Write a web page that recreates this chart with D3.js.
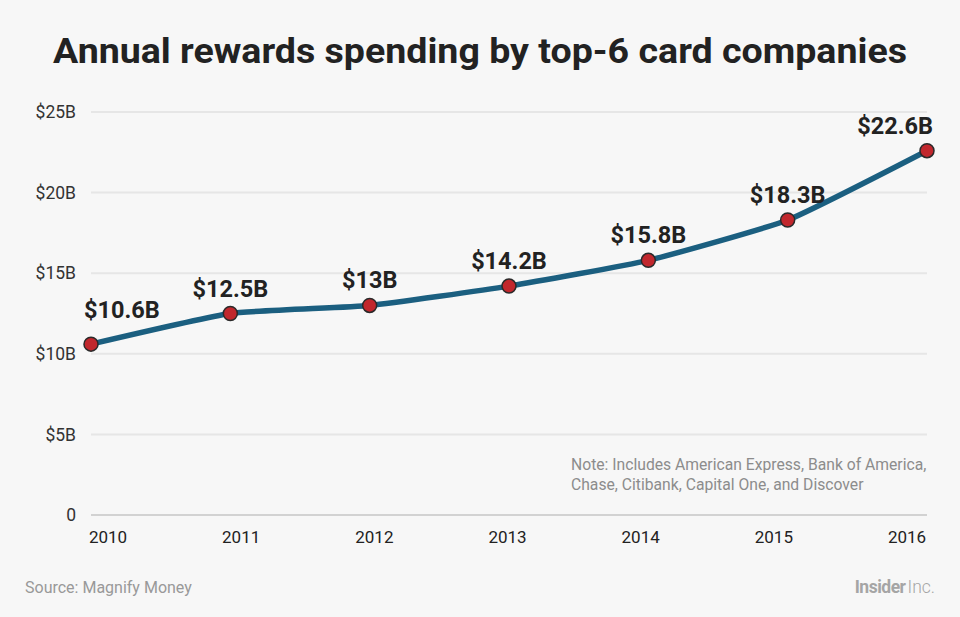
<!DOCTYPE html>
<html>
<head>
<meta charset="utf-8">
<script src="https://cdn.jsdelivr.net/npm/d3@7"></script>
<style>
  html, body { margin: 0; padding: 0; background: #f7f7f7; }
  svg { display: block; }
</style>
</head>
<body>
<svg id="chart" width="960" height="617"></svg>
<script>
const years = ["2010", "2011", "2012", "2013", "2014", "2015", "2016"];
const values = [10.6, 12.5, 13, 14.2, 15.8, 18.3, 22.6];
const valueLabels = ["$10.6B", "$12.5B", "$13B", "$14.2B", "$15.8B", "$18.3B", "$22.6B"];
const yTicks = [0, 5, 10, 15, 20, 25];
const yTickLabels = ["0", "$5B", "$10B", "$15B", "$20B", "$25B"];
const title = "Annual rewards spending by top-6 card companies";
const noteLines = ["Note: Includes American Express, Bank of America,", "Chase, Citibank, Capital One, and Discover"];
const source = "Source: Magnify Money";

(function () {
const W = 960, H = 617;
const svg = d3.select("#chart");
svg.append("rect").attr("width", W).attr("height", H).attr("fill", "#f7f7f7");

const mLeft = 91, mRight = 927, mTop = 112, mBottom = 515;
const x = d3.scalePoint().domain(years).range([mLeft, mRight]);
const y = d3.scaleLinear().domain([0, 25]).range([mBottom, mTop]);
const xLab = d3.scalePoint().domain(years).range([mLeft + 17, mRight - 20]);

const font = "Roboto, 'Open Sans', sans-serif";

// title
svg.append("text")
  .attr("x", 480).attr("y", 63)
  .attr("text-anchor", "middle")
  .attr("font-family", font)
  .attr("font-weight", 700)
  .attr("font-size", 35)
  .attr("fill", "#222")
  .attr("textLength", 854)
  .attr("lengthAdjust", "spacingAndGlyphs")
  .text(title);

// gridlines
svg.append("g").selectAll("line").data(yTicks).join("line")
  .attr("x1", mLeft).attr("x2", mRight)
  .attr("y1", d => y(d)).attr("y2", d => y(d))
  .attr("stroke", (d) => d === 0 ? "#d2d2d2" : "#e6e6e6")
  .attr("stroke-width", 2);

// y labels
svg.append("g").selectAll("text").data(yTicks).join("text")
  .attr("x", 76).attr("y", d => y(d))
  .attr("dy", "0.35em")
  .attr("text-anchor", "end")
  .attr("font-family", font)
  .attr("font-size", 17.5)
  .attr("fill", "#333")
  .text((d, i) => yTickLabels[i]);

// x labels
svg.append("g").selectAll("text").data(years).join("text")
  .attr("x", d => xLab(d)).attr("y", 543)
  .attr("text-anchor", "middle")
  .attr("font-family", font)
  .attr("font-size", 17)
  .attr("fill", "#222")
  .text(d => d);

// note
svg.append("g").selectAll("text").data(noteLines).join("text")
  .attr("x", 571).attr("y", (d, i) => 470 + i * 20)
  .attr("font-family", font)
  .attr("font-size", 15.7)
  .attr("fill", "#8c8c8c")
  .text(d => d);

// line
const data = years.map((yr, i) => ({ yr, v: values[i], label: valueLabels[i] }));
const line = d3.line().x(d => x(d.yr)).y(d => y(d.v)).curve(d3.curveCardinal.tension(0.55));
svg.append("path").datum(data)
  .attr("d", line)
  .attr("fill", "none")
  .attr("stroke", "#1b5f80")
  .attr("stroke-width", 5.5)
  .attr("stroke-linecap", "round")
  .attr("stroke-linejoin", "round");

// dots
svg.append("g").selectAll("circle").data(data).join("circle")
  .attr("cx", d => x(d.yr)).attr("cy", d => y(d.v))
  .attr("r", 7)
  .attr("fill", "#c1272d")
  .attr("stroke", "#2a2a2a")
  .attr("stroke-width", 1.5);

// value labels
const n = data.length;
svg.append("g").selectAll("text").data(data).join("text")
  .attr("x", (d, i) => i === 0 ? x(d.yr) - 7 : i === n - 1 ? x(d.yr) + 6 : x(d.yr))
  .attr("y", (d, i) => y(d.v) - (i === 0 ? 26 : 17))
  .attr("text-anchor", (d, i) => i === 0 ? "start" : i === n - 1 ? "end" : "middle")
  .attr("font-family", font)
  .attr("font-weight", 700)
  .attr("font-size", 23.5)
  .attr("fill", "#222")
  .text(d => d.label);

// source
svg.append("text")
  .attr("x", 25).attr("y", 593)
  .attr("font-family", font)
  .attr("font-size", 16)
  .attr("fill", "#999")
  .text(source);

// logo
const logo = svg.append("text")
  .attr("x", 935).attr("y", 593)
  .attr("text-anchor", "end")
  .attr("font-family", font)
  .attr("font-size", 17.5)
  .attr("fill", "#a5a5a5");
logo.append("tspan").attr("font-weight", 700).attr("letter-spacing", -0.5).text("Insider");
logo.append("tspan").attr("font-weight", 300).attr("dx", 2).text("Inc.");
})();
</script>
</body>
</html>
